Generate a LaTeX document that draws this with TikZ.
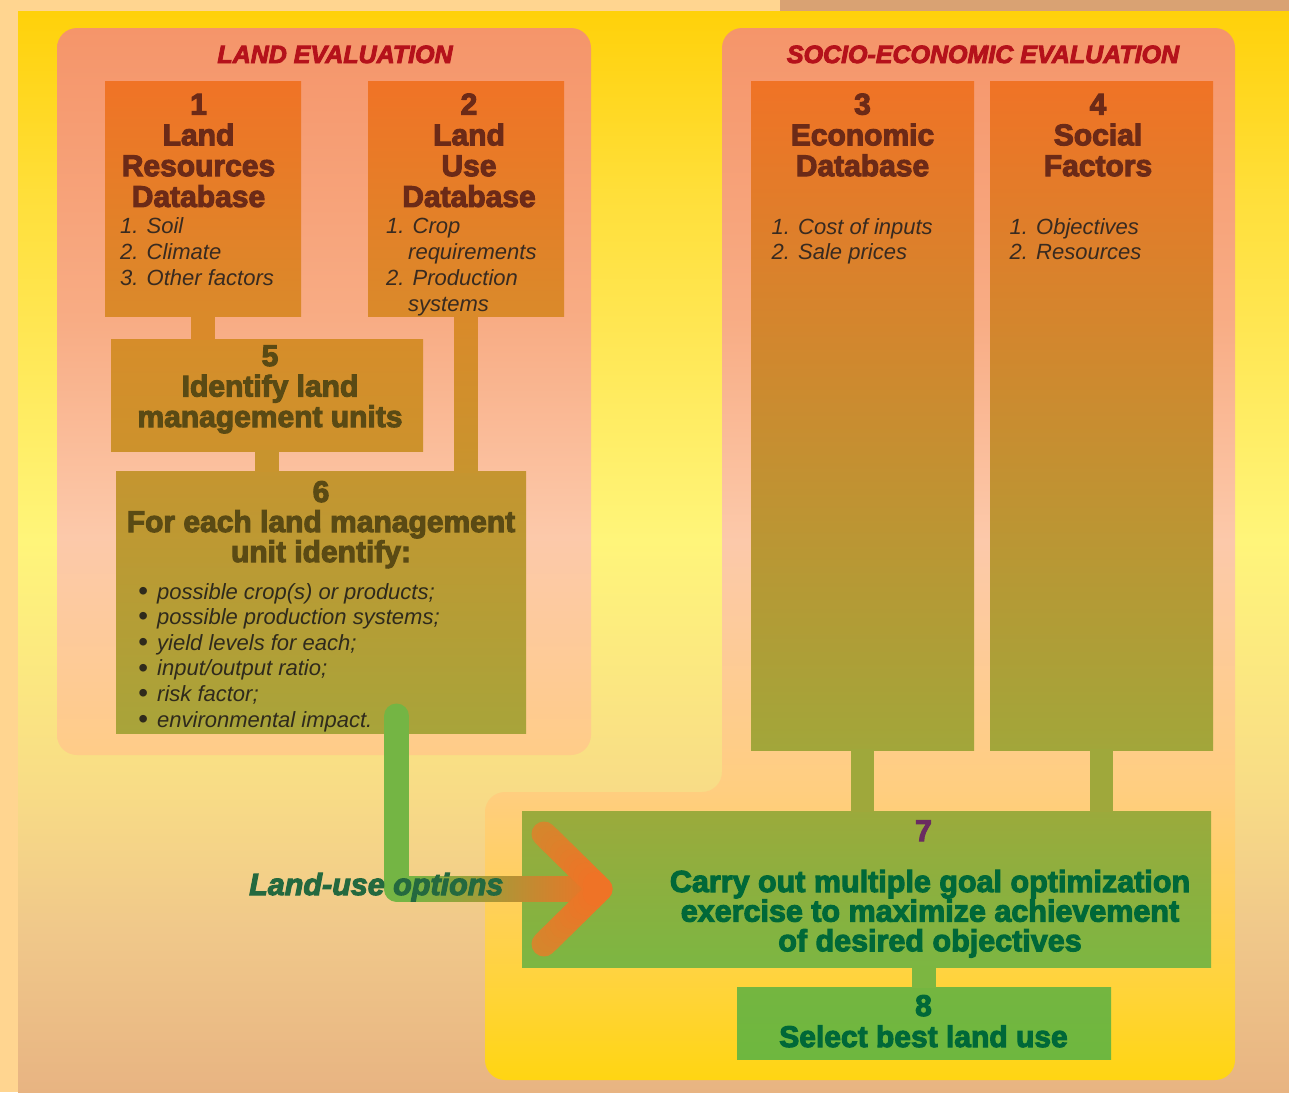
\documentclass[tikz,border=0pt]{standalone}
\usepackage{fontspec}
\setmainfont{Liberation Sans}
\newfontfamily\heavyfont{Liberation Sans}[BoldFeatures={FakeBold=3.5},BoldItalicFeatures={FakeBold=3.5}]
\usetikzlibrary{calc}
% background colours
\definecolor{bgLight}{HTML}{FFD590}
\definecolor{bgTan}{HTML}{D9A273}
\definecolor{yA}{HTML}{FFD10A}
\definecolor{yB}{HTML}{FFDF3A}
\definecolor{yC}{HTML}{FFE652}
\definecolor{yD}{HTML}{FFF57A}
\definecolor{yE}{HTML}{F8DC86}
\definecolor{yF}{HTML}{F0C88A}
\definecolor{yG}{HTML}{E8B482}
\definecolor{pA}{HTML}{F5956A}
\definecolor{pB}{HTML}{F8AC84}
\definecolor{pC}{HTML}{FCC9AA}
\definecolor{pD}{HTML}{FFCC88}
\definecolor{sD}{HTML}{FFCE80}
\definecolor{sE}{HTML}{FFD05A}
\definecolor{sF}{HTML}{FFD435}
\definecolor{sG}{HTML}{FFD512}
% box colours
\definecolor{orTop}{HTML}{F07326}
\definecolor{orBot}{HTML}{DA8A2A}
\definecolor{orMid}{HTML}{CF8F2D}
\definecolor{olBot}{HTML}{A2A63A}
\definecolor{fiveTop}{HTML}{D68D2A}
\definecolor{fiveBot}{HTML}{CD922C}
\definecolor{sixTop}{HTML}{C59530}
\definecolor{sixBot}{HTML}{A8A43A}
\definecolor{sevTop}{HTML}{9BAA3C}
\definecolor{sevBot}{HTML}{7CB642}
\definecolor{eigTop}{HTML}{74B640}
\definecolor{eigBot}{HTML}{6EB73F}
\definecolor{cSix}{HTML}{C8942E}
\definecolor{cSev}{HTML}{9FA83B}
\definecolor{cEig}{HTML}{7CB641}
% arrow colours
\definecolor{gArrow}{HTML}{74B544}
\definecolor{oArrow}{HTML}{F07226}
\definecolor{aArrow}{HTML}{D3882D}
% text colours
\definecolor{titleRed}{HTML}{B5121B}
\definecolor{brownText}{HTML}{6C2A17}
\definecolor{itemText}{HTML}{382A20}
\definecolor{oliveText}{HTML}{5A4A14}
\definecolor{sixItem}{HTML}{2F2A1C}
\definecolor{greenText}{HTML}{006838}
\definecolor{purpleText}{HTML}{6A2C61}
\definecolor{optText}{HTML}{24693F}

\pgfdeclareverticalshading{yellowbg}{100bp}{color(0bp)=(yG); color(25bp)=(yG); color(32.5bp)=(yF); color(39bp)=(yE); color(50.5bp)=(yD); color(60.5bp)=(yC); color(66.5bp)=(yB); color(75bp)=(yA); color(100bp)=(yA)}
\pgfdeclareverticalshading{landpanel}{100bp}{color(0bp)=(pD); color(25bp)=(pD); color(40bp)=(pC); color(55bp)=(pB); color(75bp)=(pA); color(100bp)=(pA)}
\pgfdeclareverticalshading{sociopanel}{100bp}{color(0bp)=(sG); color(25bp)=(sG); color(28.8bp)=(sF); color(33.5bp)=(sE); color(38.8bp)=(sD); color(50.6bp)=(pC); color(61.3bp)=(pB); color(75bp)=(pA); color(100bp)=(pA)}

\newcommand{\mybul}{\makebox[19pt][l]{\raisebox{-1.2pt}{\fontsize{28}{28}\selectfont\textbullet}}}

\begin{document}
\begin{tikzpicture}[x=1pt,y=-1pt,
  box/.style={rectangle, inner sep=0pt, outer sep=0pt, draw=none, anchor=north west},
  head/.style={inner sep=0pt, anchor=base, align=center, font=\heavyfont\bfseries\fontsize{30}{30.8}\selectfont},
  itemtxt/.style={inner sep=0pt, anchor=base west, align=left, text=itemText, font=\itshape\fontsize{22}{25.9}\selectfont},
  paneltitle/.style={inner sep=0pt, anchor=base, text=titleRed, font=\heavyfont\bfseries\itshape\fontsize{25}{25}\selectfont},
  conn/.style={line width=23.5pt, line cap=butt, shorten <=-1pt, shorten >=-1pt},
  arrowline/.style={line width=25pt, line cap=round, line join=round}
]
\useasboundingbox (0,0) rectangle (1289,1092);
% backgrounds
\fill[bgLight] (0,0) rectangle (1289,1092);
\fill[bgTan] (780,0) rectangle (1289,11);
\shade[shading=yellowbg] (18,11) rectangle (1289,1092);
\shade[shading=landpanel, rounded corners=20pt] (57,28) rectangle (591,755);
\shade[shading=sociopanel, rounded corners=20pt] (485,1080) -- (485,792) -- (722,792) -- (722,28) -- (1235,28) -- (1235,1080) -- cycle;

% panel titles
\node[paneltitle] (tland) at (335,63) {LAND EVALUATION};
\node[paneltitle] (tsocio) at (983,63) {SOCIO-ECONOMIC EVALUATION};

% boxes
\node[box, minimum width=196pt, minimum height=235pt, top color=orTop, bottom color=orBot] (b1) at (105,81) {};
\node[box, minimum width=196pt, minimum height=235pt, top color=orTop, bottom color=orBot] (b2) at (368,81) {};
\node[box, minimum width=223pt, minimum height=669pt, top color=orTop, middle color=orMid, bottom color=olBot] (b3) at (751,81) {};
\node[box, minimum width=223pt, minimum height=669pt, top color=orTop, middle color=orMid, bottom color=olBot] (b4) at (990,81) {};
\node[box, minimum width=312pt, minimum height=112pt, top color=fiveTop, bottom color=fiveBot] (b5) at (111,339) {};
\node[box, minimum width=410pt, minimum height=262pt, top color=sixTop, bottom color=sixBot] (b6) at (116,471) {};
\node[box, minimum width=689pt, minimum height=156pt, top color=sevTop, bottom color=sevBot] (b7) at (522,811) {};
\node[box, minimum width=374pt, minimum height=72pt, top color=eigTop, bottom color=eigBot] (b8) at (737,987) {};

% connectors
\draw[conn, orBot] (b1.south) -- (b1.south |- b5.north);
\shade[top color=orBot, bottom color=cSix] ($(b2.south)+(-11.75,-1)$) rectangle ($(b2.south |- b6.north)+(11.75,1)$);
\draw[conn, cSix] (b5.south) -- (b5.south |- b6.north);
\draw[conn, cSev] (b3.south) -- (b3.south |- b7.north);
\draw[conn, cSev] (b4.south) -- (b4.south |- b7.north);
\draw[conn, cEig] (b8.north) -- (b8.north |- b7.south);

% box texts (anchor = baseline of the last line)
\node[head, text=brownText] (b1h) at (198.5,206.9) {1\\Land\\Resources\\Database};
\node[itemtxt] (b1i) at (120,285.1) {1. Soil\\2. Climate\\3. Other factors};
\node[head, text=brownText] (b2h) at (469,206.9) {2\\Land\\Use\\Database};
\node[itemtxt] (b2i) at (386,311) {1. Crop\\\hspace*{22pt}requirements\\2. Production\\\hspace*{22pt}systems};
\node[head, text=brownText] (b3h) at (862.5,176.1) {3\\Economic\\Database};
\node[itemtxt] (b3i) at (771.5,259.9) {1. Cost of inputs\\2. Sale prices};
\node[head, text=brownText] (b4h) at (1098,176.1) {4\\Social\\Factors};
\node[itemtxt] (b4i) at (1009.5,259.9) {1. Objectives\\2. Resources};
\node[head, text=oliveText, font=\heavyfont\bfseries\fontsize{30}{30.5}\selectfont] (b5h) at (270,427) {5\\Identify land\\management units};
\node[head, text=oliveText, font=\heavyfont\bfseries\fontsize{30}{30}\selectfont] (b6h) at (321,562) {6\\For each land management\\unit identify:};
\node[itemtxt, text=sixItem, font=\itshape\fontsize{22}{25.6}\selectfont] (b6i) at (138,727) {\mybul possible crop(s) or products;\\\mybul possible production systems;\\\mybul yield levels for each;\\\mybul input/output ratio;\\\mybul risk factor;\\\mybul environmental impact.};
\node[head, text=purpleText] (b7n) at (923.5,841) {7};
\node[head, text=greenText, font=\heavyfont\bfseries\fontsize{30.5}{29.6}\selectfont] (b7h) at (930,951.2) {Carry out multiple goal optimization\\exercise to maximize achievement\\of desired objectives};
\node[head, text=greenText, font=\heavyfont\bfseries\fontsize{30}{31}\selectfont] (b8h) at (923.5,1047) {8\\Select best land use};

% land-use options arrow (box 6 -> box 7)
\coordinate (gtop) at (396.5,716);
\coordinate (gbend) at (396.5,889);
\coordinate (tip) at (600,889);
\coordinate (armU) at (544,834);
\coordinate (armL) at (544,944);
\draw[arrowline, gArrow] (gtop) -- (gbend) -- ($(gbend)+(20,0)$);
\shade[left color=gArrow, right color=oArrow] ($(gbend)+(12,-12.5)$) rectangle ($(tip)+(0,12.5)$);
\foreach \i in {0,...,11} {
  \pgfmathsetmacro\pa{\i/12}
  \pgfmathsetmacro\pb{(\i+1)/12}
  \pgfmathsetmacro\pc{100*(\i+0.5)/12}
  \draw[arrowline, color=oArrow!\pc!aArrow] ($(armU)!\pa!(tip)$) -- ($(armU)!\pb!(tip)$);
  \draw[arrowline, color=oArrow!\pc!aArrow] ($(armL)!\pa!(tip)$) -- ($(armL)!\pb!(tip)$);
}
\node[inner sep=0pt, anchor=base west, text=optText, font=\heavyfont\bfseries\itshape\fontsize{30.5}{30}\selectfont] (luo) at (249,895) {Land-use options};
\end{tikzpicture}
\end{document}
